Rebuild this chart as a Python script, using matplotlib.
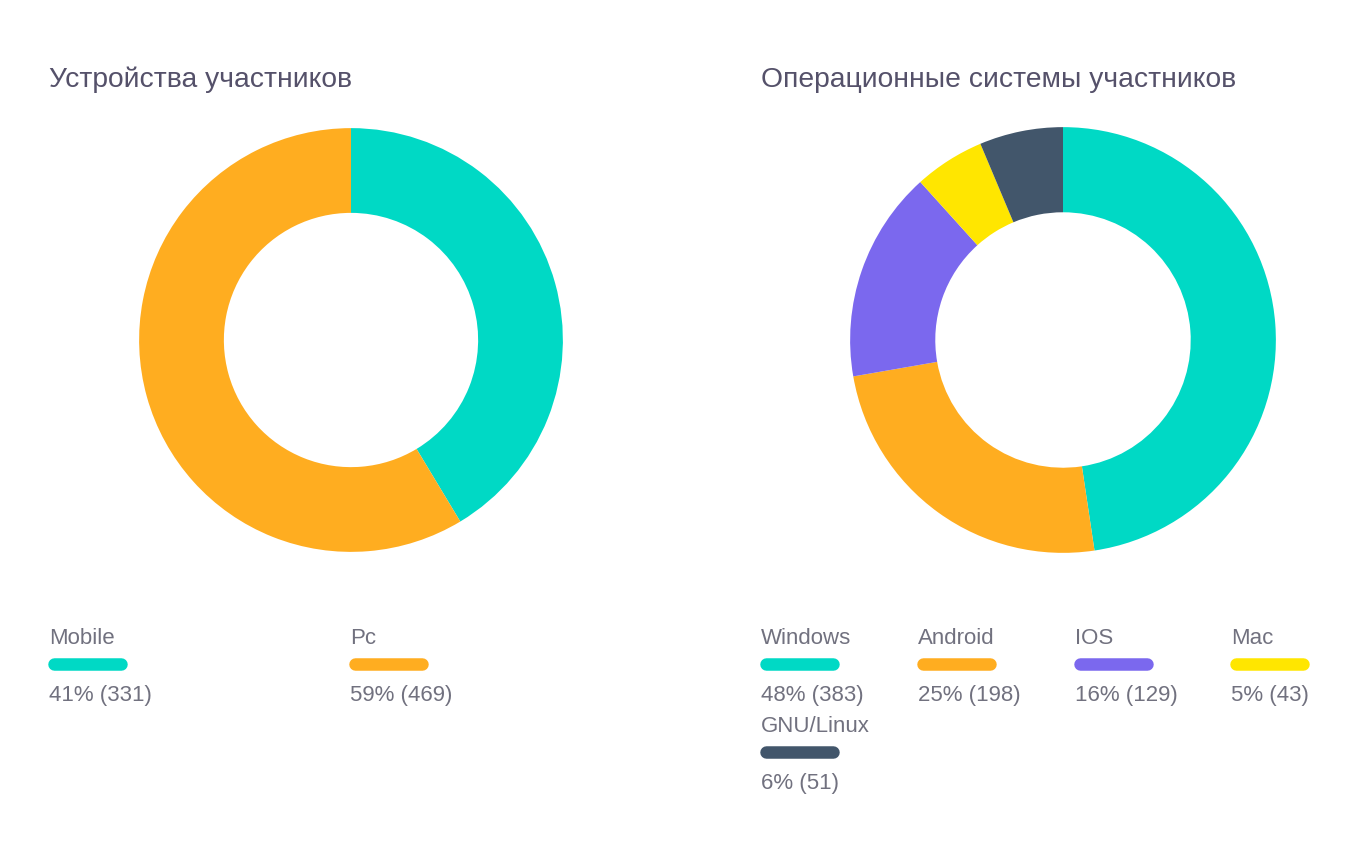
import matplotlib
matplotlib.use('Agg')
import matplotlib.pyplot as plt

plt.rcParams['font.family'] = ['Liberation Sans', 'DejaVu Sans']

# Data
devTitle = 'Устройства участников'
devLabels = ['Mobile', 'Pc']
devCounts = [331, 469]
devPercents = [41, 59]
devColors = ['#00d9c5', '#ffad20']

osTitle = 'Операционные системы участников'
osLabels = ['Windows', 'Android', 'IOS', 'Mac', 'GNU/Linux']
osCounts = [383, 198, 129, 43, 51]
osPercents = [48, 25, 16, 5, 6]
osColors = ['#00d9c5', '#ffad20', '#7b68ee', '#ffe600', '#42566b']

W, H = 1360, 865
fig = plt.figure(figsize=(W / 100, H / 100), dpi=100)
fig.patch.set_facecolor('white')

titleColor = '#55516a'
textColor = '#71717f'


def donut(cx, cy, r, counts, colors):
    ax = fig.add_axes([(cx - r) / W, (H - cy - r) / H, 2 * r / W, 2 * r / H])
    ax.pie(counts, colors=colors, startangle=90, counterclock=False, radius=1,
           wedgeprops=dict(width=0.4, edgecolor='none'))
    ax.set_xlim(-1.01, 1.01)
    ax.set_ylim(-1.01, 1.01)
    ax.axis('off')


donut(351, 340, 214, devCounts, devColors)
donut(1063, 340, 215, osCounts, osColors)

# overlay in pixel coords
ov = fig.add_axes([0, 0, 1, 1])
ov.set_xlim(0, W)
ov.set_ylim(H, 0)
ov.axis('off')
ov.patch.set_alpha(0)

ov.text(49, 80, devTitle, fontsize=20.3, color=titleColor, va='center', ha='left')
ov.text(761, 80, osTitle, fontsize=20.3, color=titleColor, va='center', ha='left')


def legendItem(x, y, label, pct, cnt, color):
    ov.text(x, y + 2, label, fontsize=16, color=textColor, va='center', ha='left')
    ov.plot([x + 5, x + 72], [y + 27, y + 27], color=color, lw=9,
            solid_capstyle='round')
    ov.text(x, y + 59, '%d%% (%d)' % (pct, cnt), fontsize=16, color=textColor,
            va='center', ha='left')


devX = [49, 350]
for i in range(len(devLabels)):
    legendItem(devX[i], 637, devLabels[i], devPercents[i], devCounts[i], devColors[i])

osX = [761, 918, 1075, 1231]
for i in range(len(osLabels)):
    x = osX[i % 4]
    y = 637 + 88 * (i // 4)
    legendItem(x, y, osLabels[i], osPercents[i], osCounts[i], osColors[i])

fig.savefig('out.png', dpi=100, facecolor='white')
